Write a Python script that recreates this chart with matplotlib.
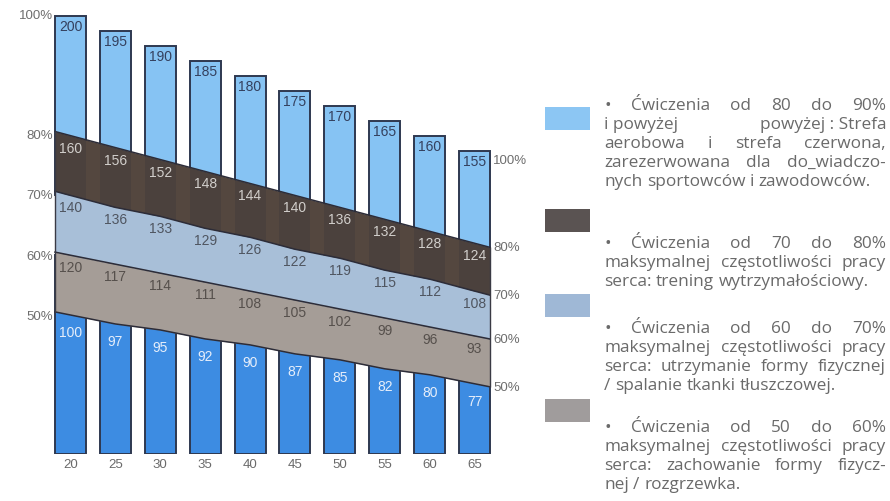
import re
import numpy as np
import matplotlib
matplotlib.use('Agg')
import matplotlib.pyplot as plt
from matplotlib.patches import Rectangle

# Heart-rate zones by age (bpm)
ages = [20, 25, 30, 35, 40, 45, 50, 55, 60, 65]
hr_max = [200, 195, 190, 185, 180, 175, 170, 165, 160, 155]
hr_80 = [160, 156, 152, 148, 144, 140, 136, 132, 128, 124]
hr_70 = [140, 136, 133, 129, 126, 122, 119, 115, 112, 108]
hr_60 = [120, 117, 114, 111, 108, 105, 102, 99, 96, 93]
hr_50 = [100, 97, 95, 92, 90, 87, 85, 82, 80, 77]
pct_labels = ['100%', '80%', '70%', '60%', '50%']

legend_paragraphs = [
    ["• Ćwiczenia od 80 do 90%",
     "i powyżej      powyżej : Strefa",
     "aerobowa i strefa czerwona,",
     "zarezerwowana dla do_wiadczo-",
     "nych sportowców i zawodowców."],
    ["• Ćwiczenia od 70 do 80%",
     "maksymalnej częstotliwości pracy",
     "serca: trening wytrzymałościowy."],
    ["• Ćwiczenia od 60 do 70%",
     "maksymalnej częstotliwości pracy",
     "serca: utrzymanie formy fizycznej",
     "/ spalanie tkanki tłuszczowej."],
    ["• Ćwiczenia od 50 do 60%",
     "maksymalnej częstotliwości pracy",
     "serca: zachowanie formy fizycz-",
     "nej / rozgrzewka."],
]

# colours
c_top = '#86c3f3'
c_low = '#3d8ce2'
c_edge = '#2e3850'
c_dark = '#54473f'
c_mid = '#a8bfd8'
c_grey = '#a59d97'
legend_colors = ['#8cc6f3', '#5a5352', '#9fb8d6', '#a09c9c']

W, H = 890, 502
BASE = 53.5
bw = 3.45

fig = plt.figure(figsize=(W / 100, H / 100), dpi=100)
ax = fig.add_axes([48 / W, 47 / H, 449 / W, 455 / H])
ax.set_xlim(17.5, 67.5)
ax.set_ylim(BASE, 205.7)

a = np.array(ages, dtype=float)
x_ext = np.concatenate([[a[0] - bw / 2], a, [a[-1] + bw / 2]])


def extend(v):
    v = np.array(v, dtype=float)
    s0 = (v[1] - v[0]) / (a[1] - a[0])
    s1 = (v[-1] - v[-2]) / (a[-1] - a[-2])
    return np.concatenate([[v[0] - s0 * bw / 2], v, [v[-1] + s1 * bw / 2]])


# bars (partly hidden under the bands)
ax.bar(a, np.array(hr_max) - np.array(hr_70), bottom=hr_70, width=bw,
       color=c_top, edgecolor=c_edge, linewidth=1.4, zorder=1)
ax.bar(a, np.array(hr_60) - BASE, bottom=BASE, width=bw,
       color=c_low, edgecolor=c_edge, linewidth=1.4, zorder=1)

# zone bands
bands = [(hr_70, hr_80, c_dark), (hr_60, hr_70, c_mid), (hr_50, hr_60, c_grey)]
for lo, hi, col in bands:
    ax.fill_between(x_ext, extend(lo), extend(hi), color=col, lw=0, zorder=2)

# darker columns showing through the dark band
poly = ax.fill_between(x_ext, extend(hr_70), extend(hr_80), color='none', lw=0)
strips = ax.bar(a, np.array(hr_80) - np.array(hr_70) + 6, bottom=np.array(hr_70) - 3,
                width=bw, color='#262a38', alpha=0.18, lw=0, zorder=2.5)
for s in strips:
    s.set_clip_path(poly.get_paths()[0], ax.transData)

for v in [hr_80, hr_70, hr_60, hr_50]:
    ax.plot(x_ext, extend(v), color='#2c2c38', lw=1.1, zorder=3)
ax.vlines([x_ext[0], x_ext[-1]], [extend(hr_50)[0], extend(hr_50)[-1]],
          [extend(hr_80)[0], extend(hr_80)[-1]], color='#3a3a44', lw=1.0, zorder=3)

# value labels
num_font = dict(family='Liberation Sans', fontsize=10, ha='center', va='center', zorder=4)
label_sets = [(hr_max, '#34405e', -10), (hr_80, '#d2cfcc', -12),
              (hr_70, '#4f5560', -12), (hr_60, '#56504c', -12), (hr_50, '#e6eefa', -17)]
for vals, col, off in label_sets:
    for x, v in zip(ages, vals):
        ax.annotate(str(v), (x, v), xytext=(0, off), textcoords='offset pixels',
                    color=col, **num_font)

# percent labels on both sides
pct_font = dict(family='Liberation Sans', fontsize=9.5, color='#6e6e6e', va='center')
for i, (lab, vals) in enumerate(zip(pct_labels, [hr_max, hr_80, hr_70, hr_60, hr_50])):
    ev = extend(vals)
    ax.annotate(lab, (x_ext[0], ev[0]), xytext=(-2, -4 if i == 0 else -4),
                textcoords='offset pixels', ha='right', **pct_font)
    ax.annotate(lab, (x_ext[-1], ev[-1]), xytext=(3, -4 if i == 0 else 0),
                textcoords='offset pixels', ha='left', **pct_font)

ax.set_xticks(ages)
ax.set_xticklabels([str(x) for x in ages], family='Liberation Sans', fontsize=9.5, color='#6a6a6a')
ax.tick_params(axis='x', length=0, pad=3)
ax.set_yticks([])
for sp in ax.spines.values():
    sp.set_visible(False)

# legend boxes
box_tops = [108, 210, 295, 400]
for top, col in zip(box_tops, legend_colors):
    fig.add_artist(Rectangle((545 / W, 1 - (top + 23) / H), 45 / W, 23 / H,
                             transform=fig.transFigure, color=col, lw=0))

# justified legend text, font sized so a full line fits the column
X0, X1 = 604, 886
para_tops = [106, 244, 329, 428]
line_step = 19
leg_font = 'Open Sans'
fig.canvas.draw()
renderer = fig.canvas.get_renderer()
probe = fig.text(0, 0, legend_paragraphs[1][1], family=leg_font, fontsize=10)
leg_size = 10 * (X1 - X0 - 12) / probe.get_window_extent(renderer).width
probe.remove()

for lines, y0 in zip(legend_paragraphs, para_tops):
    for i, line in enumerate(lines):
        y = y0 + i * line_step
        tokens = re.split(r'\s{2,}', line) if '  ' in line else line.split(' ')
        txts = [fig.text(0, 1 - y / H, t, family=leg_font, fontsize=leg_size,
                         color='#6a6a6a', va='center', ha='left') for t in tokens]
        widths = [t.get_window_extent(renderer).width for t in txts]
        last = i == len(lines) - 1
        if not last and len(txts) > 1:
            gap = (X1 - X0 - sum(widths)) / (len(txts) - 1)
        else:
            gap = 4.5
        x = X0
        for t, wd in zip(txts, widths):
            t.set_x(x / W)
            x += wd + gap

fig.savefig('out.png', dpi=100, facecolor='white')
